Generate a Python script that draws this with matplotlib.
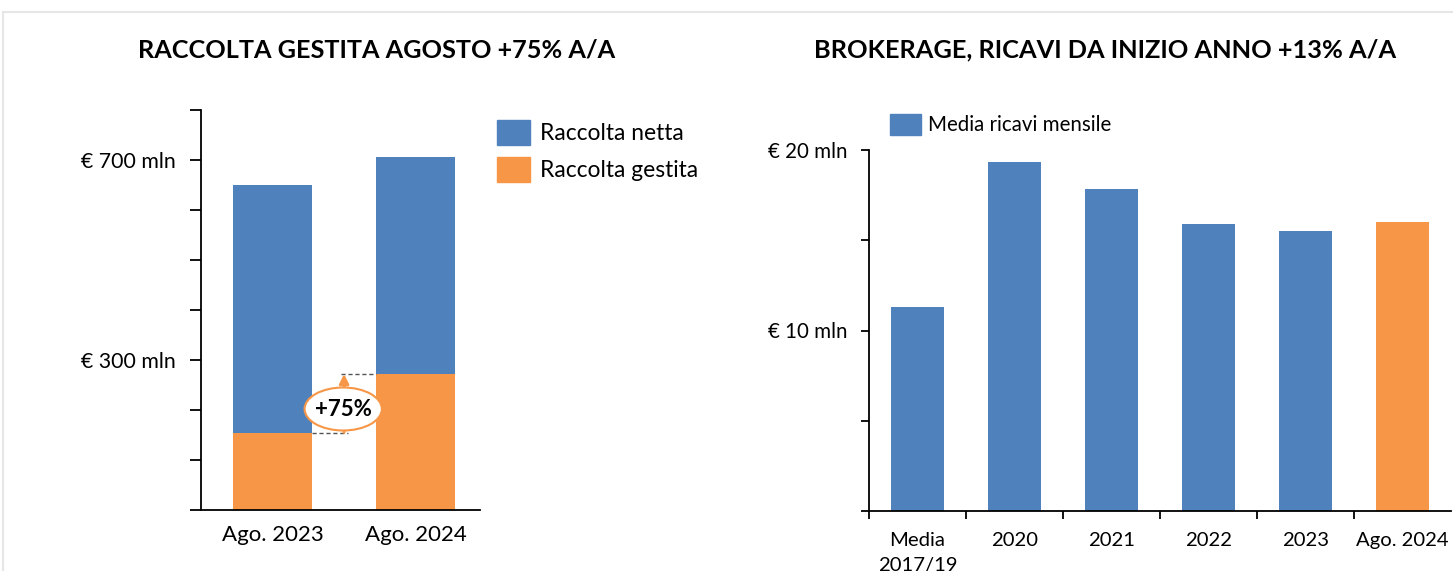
import matplotlib.pyplot as plt
from matplotlib.patches import Patch, Ellipse, Rectangle

plt.rcParams['font.family'] = ['Lato', 'DejaVu Sans']

BLUE = '#4F81BD'
ORANGE = '#F79646'

# left chart: raccolta (mln euro)
left_cats = ['Ago. 2023', 'Ago. 2024']
raccolta_gestita = [155, 272]
raccolta_totale = [650, 707]
left_ticks = [0, 100, 200, 300, 400, 500, 600, 700, 800]
left_ticklabels = {300: '€ 300 mln', 700: '€ 700 mln'}

# right chart: brokerage, media ricavi mensile (mln euro)
right_cats = ['Media\n2017/19', '2020', '2021', '2022', '2023', 'Ago. 2024']
ricavi = [11.3, 19.35, 17.85, 15.9, 15.5, 16.0]
right_ticks = [0, 5, 10, 15, 20]
right_ticklabels = {10: '€ 10 mln', 20: '€ 20 mln'}

W, H = 1453, 571
fig = plt.figure(figsize=(W / 100, H / 100), dpi=100)

# light frame around the slide area
fig.patches.append(Rectangle((3 / W, -0.1), 1.2, 1 - 12 / H + 0.1, transform=fig.transFigure,
                             fill=False, edgecolor='#e6e6e6', linewidth=1.5))

def px_axes(x0, y0, x1, y1):
    return fig.add_axes([x0 / W, 1 - y1 / H, (x1 - x0) / W, (y1 - y0) / H])

def style(ax):
    for s in ['top', 'right']:
        ax.spines[s].set_visible(False)
    ax.spines['left'].set_linewidth(1.3)
    ax.spines['bottom'].set_linewidth(1.3)

# ---------------- left
ax1 = px_axes(201, 110, 480, 510)
style(ax1)
x = range(len(left_cats))
netta_seg = [t - g for t, g in zip(raccolta_totale, raccolta_gestita)]
ax1.bar(x, raccolta_gestita, width=0.55, color=ORANGE, zorder=2)
ax1.bar(x, netta_seg, bottom=raccolta_gestita, width=0.55, color=BLUE, zorder=2)
ax1.set_xlim(-0.5, 1.45)
ax1.set_ylim(0, 800)
ax1.set_yticks(left_ticks)
ax1.set_yticklabels([left_ticklabels.get(t, '') for t in left_ticks], fontsize=15.3)
ax1.tick_params(axis='y', length=8, width=1.3, pad=10.5)
ax1.set_xticks(list(x))
ax1.set_xticklabels(left_cats, fontsize=16)
ax1.tick_params(axis='x', length=0, pad=11)

# +75% callout
ax1.plot([0.275, 0.53], [raccolta_gestita[0]] * 2, ls=(0, (3, 2)), color='#555555', lw=1, zorder=3)
ax1.plot([0.48, 0.725], [raccolta_gestita[1]] * 2, ls=(0, (3, 2)), color='#555555', lw=1, zorder=3)
ax1.annotate('', xy=(0.5, raccolta_gestita[1]), xytext=(0.5, raccolta_gestita[0]),
             arrowprops=dict(arrowstyle='-|>', color=ORANGE, lw=2, mutation_scale=14,
                             shrinkA=0, shrinkB=0), zorder=3)
ax1.add_patch(Ellipse((0.494, 202), 0.54, 86, facecolor='white', edgecolor=ORANGE, lw=1.5, zorder=4))
ax1.text(0.494, 202, '+75%', ha='center', va='center', fontsize=16, fontweight='bold', zorder=5)

fig.text(377 / W, 1 - 50 / H, 'RACCOLTA GESTITA AGOSTO +75% A/A', ha='center', va='center',
         fontsize=18.2, fontweight='bold')

fig.legend(handles=[Patch(color=BLUE, label='Raccolta netta'), Patch(color=ORANGE, label='Raccolta gestita')],
           loc='upper left', bbox_to_anchor=(497 / W, 1 - 120 / H), frameon=False, fontsize=16.4,
           handlelength=1.45, handleheight=1.3, handletextpad=0.42, labelspacing=0.55,
           borderpad=0, borderaxespad=0)

# ---------------- right
ax2 = px_axes(869, 150, 1451, 511)
style(ax2)
xr = range(len(right_cats))
colors = [BLUE] * (len(right_cats) - 1) + [ORANGE]
ax2.bar(xr, ricavi, width=0.55, color=colors, zorder=2)
ax2.set_xlim(-0.5, len(right_cats) - 0.5)
ax2.set_ylim(0, 20)
ax2.set_yticks(right_ticks)
ax2.set_yticklabels([right_ticklabels.get(t, '') for t in right_ticks], fontsize=14.8)
ax2.tick_params(axis='y', length=6, width=1.3, pad=9.5)
ax2.set_xticks([i - 0.5 for i in range(len(right_cats))])
ax2.set_xticklabels([])
ax2.tick_params(axis='x', which='major', length=6, width=1.3)
ax2.set_xticks(list(xr), minor=True)
ax2.set_xticklabels(right_cats, minor=True, fontsize=14.6, va='top', linespacing=1.55)
ax2.tick_params(axis='x', which='minor', length=0, pad=15)

fig.text(1105 / W, 1 - 50 / H, 'BROKERAGE, RICAVI DA INIZIO ANNO +13% A/A', ha='center', va='center',
         fontsize=18.3, fontweight='bold')

fig.legend(handles=[Patch(color=BLUE, label='Media ricavi mensile')],
           loc='upper left', bbox_to_anchor=(890 / W, 1 - 114 / H), frameon=False, fontsize=14.8,
           handlelength=1.5, handleheight=1.17, handletextpad=0.35, borderpad=0, borderaxespad=0)

fig.savefig('out.png', dpi=100)
